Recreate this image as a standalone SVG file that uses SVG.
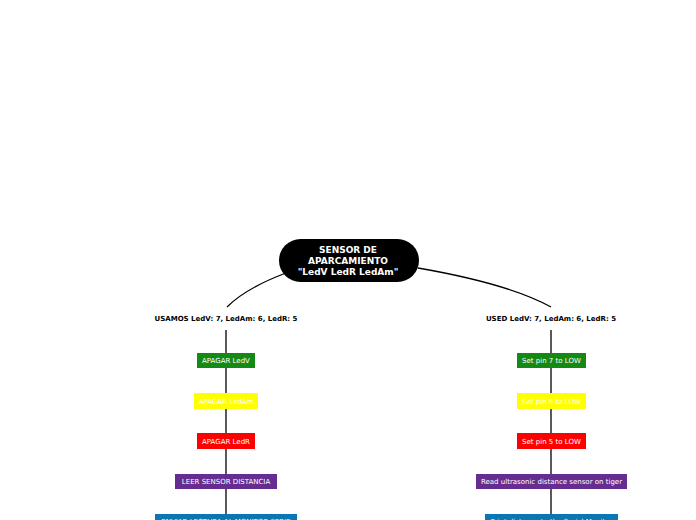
<svg xmlns="http://www.w3.org/2000/svg" width="696" height="520" viewBox="0 0 696 520">
<style>
.lbl{font-family:"DejaVu Sans",Verdana,sans-serif;font-size:7px;fill:#fff;text-anchor:middle}
.bold{font-family:"DejaVu Sans",Verdana,sans-serif;font-size:7px;font-weight:bold;fill:#000;text-anchor:middle}
.root{font-family:"DejaVu Sans",Verdana,sans-serif;font-size:9px;font-weight:bold;fill:#fff;text-anchor:middle}
.c{fill:none;stroke:#000;stroke-width:1.3}
.g{fill:#148a14}.y{fill:#ffff00}.r{fill:#ff0000}.p{fill:#662d91}.b{fill:#0a77b5}
</style>
<rect width="696" height="520" fill="#fff"/>
<g id="connectors">
<path class="c" d="M286,273 C262,282 240,294 227,307"/>
<path class="c" d="M418,268 C470,277 520,290 551,307"/>
<path class="c" d="M226,330 V520"/>
<path class="c" d="M551,330 V520"/>
</g>
<g id="root">
<rect x="279" y="239" width="140" height="43" rx="21.5" fill="#000"/>
<text class="root" x="348" y="253">SENSOR DE</text>
<text class="root" x="348" y="264">APARCAMIENTO</text>
<text class="root" x="348" y="275">"LedV LedR LedAm"</text>
</g>
<g id="usamos"><text class="bold" x="226" y="321">USAMOS LedV: 7, LedAm: 6, LedR: 5</text></g>
<g id="used"><text class="bold" x="551" y="321">USED LedV: 7, LedAm: 6, LedR: 5</text></g>
<g id="l1"><rect class="g" x="197" y="353" width="58" height="15"/><text class="lbl" x="226" y="363">APAGAR LedV</text></g>
<g id="l2"><rect class="y" x="194" y="393" width="64" height="16"/><text class="lbl" x="226" y="403.5">APAGAR LedAm</text></g>
<g id="l3"><rect class="r" x="197" y="433" width="58" height="16"/><text class="lbl" x="226" y="443.5">APAGAR LedR</text></g>
<g id="l4"><rect class="p" x="175" y="474" width="102" height="15"/><text class="lbl" x="226" y="484">LEER SENSOR DISTANCIA</text></g>
<g id="l5"><rect class="b" x="155" y="514" width="142" height="15"/><text class="lbl" x="226" y="524">ENVIAR LECTURA AL MONITOR SERIE</text></g>
<g id="r1"><rect class="g" x="517" y="353" width="69" height="15"/><text class="lbl" x="551.5" y="363">Set pin 7 to LOW</text></g>
<g id="r2"><rect class="y" x="517" y="393" width="69" height="16"/><text class="lbl" x="551.5" y="403.5">Set pin 6 to LOW</text></g>
<g id="r3"><rect class="r" x="517" y="433" width="69" height="16"/><text class="lbl" x="551.5" y="443.5">Set pin 5 to LOW</text></g>
<g id="r4"><rect class="p" x="476" y="474" width="151" height="15"/><text class="lbl" x="551.5" y="484">Read ultrasonic distance sensor on tiger</text></g>
<g id="r5"><rect class="b" x="485" y="514" width="133" height="15"/><text class="lbl" x="551.5" y="524">Print distance to the Serial Monitor</text></g>
</svg>
